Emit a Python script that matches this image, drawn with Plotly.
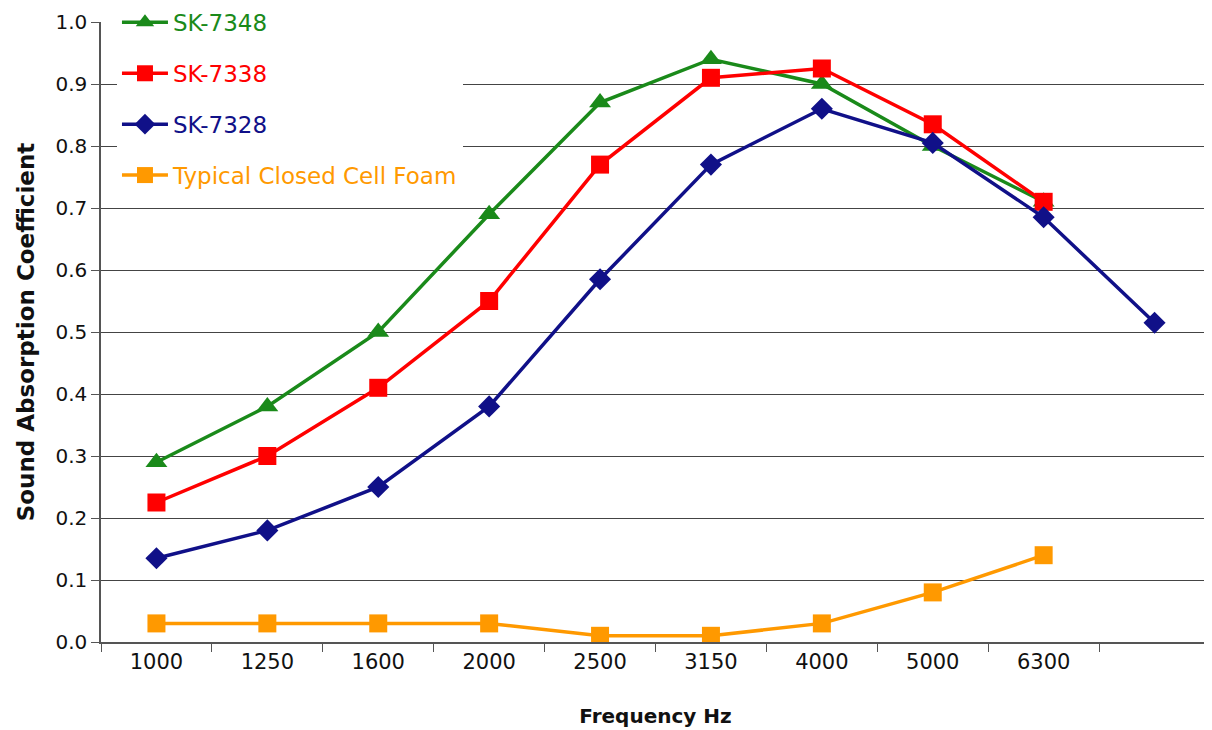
import plotly.graph_objects as go

categories = ["1000", "1250", "1600", "2000", "2500", "3150", "4000", "5000", "6300", "8000"]
tick_labels = ["1000", "1250", "1600", "2000", "2500", "3150", "4000", "5000", "6300", ""]

sk7348 = [0.29, 0.38, 0.50, 0.69, 0.87, 0.94, 0.90, 0.80, 0.71, None]
sk7338 = [0.225, 0.30, 0.41, 0.55, 0.77, 0.91, 0.925, 0.835, 0.71, None]
sk7328 = [0.135, 0.18, 0.25, 0.38, 0.585, 0.77, 0.86, 0.805, 0.685, 0.515]
foam = [0.03, 0.03, 0.03, 0.03, 0.01, 0.01, 0.03, 0.08, 0.14, None]

series = [
    ("SK-7348", sk7348, "#1a8a1a", "triangle-up", 19),
    ("SK-7338", sk7338, "#ff0000", "square", 18),
    ("SK-7328", sk7328, "#101088", "diamond", 17),
    ("Typical Closed Cell Foam", foam, "#ff9900", "square", 18),
]

FONT = "DejaVu Sans"

fig = go.Figure()
for i, (name, vals, color, sym, size) in enumerate(series):
    fig.add_trace(go.Scatter(
        x=categories, y=vals, name=f'<span style="color:{color}">{name}</span>',
        mode="lines+markers",
        line=dict(color=color, width=3.5),
        marker=dict(symbol=sym, size=size, color=color),
        legendgroup=f"g{i}", connectgaps=False,
    ))

fig.update_layout(
    width=1212, height=730,
    margin=dict(l=93, r=10, t=14, b=96, autoexpand=False),
    paper_bgcolor="white", plot_bgcolor="white",
    font=dict(family=FONT, size=20, color="#111111"),
    showlegend=True,
    legend=dict(
        x=0.0144, y=1.034, xanchor="left", yanchor="top",
        bgcolor="white", font=dict(size=23, family=FONT),
        itemwidth=46, tracegroupgap=18, traceorder="grouped",
        borderwidth=0,
    ),
    xaxis=dict(
        type="category", categoryorder="array", categoryarray=categories,
        tickvals=categories, ticktext=tick_labels,
        tickson="boundaries", ticks="outside", ticklen=8, tickcolor="#555555",
        showline=True, linecolor="#555555", linewidth=1.5,
        showgrid=False, range=[-0.5, 9.5],
        tickfont=dict(size=21),
        title=dict(text="<b>Frequency Hz</b>", font=dict(size=20), standoff=36),
    ),
    yaxis=dict(
        range=[0, 1.0], dtick=0.1, tickformat=".1f",
        ticks="outside", ticklen=8, tickcolor="#555555",
        showline=True, linecolor="#555555", linewidth=1.5,
        showgrid=True, gridcolor="#444444", gridwidth=1,
        zeroline=False,
        tickfont=dict(size=20),
        title=dict(text="<b>Sound Absorption Coefficient</b>", font=dict(size=23), standoff=14),
    ),
)

fig.write_html("out.html")
